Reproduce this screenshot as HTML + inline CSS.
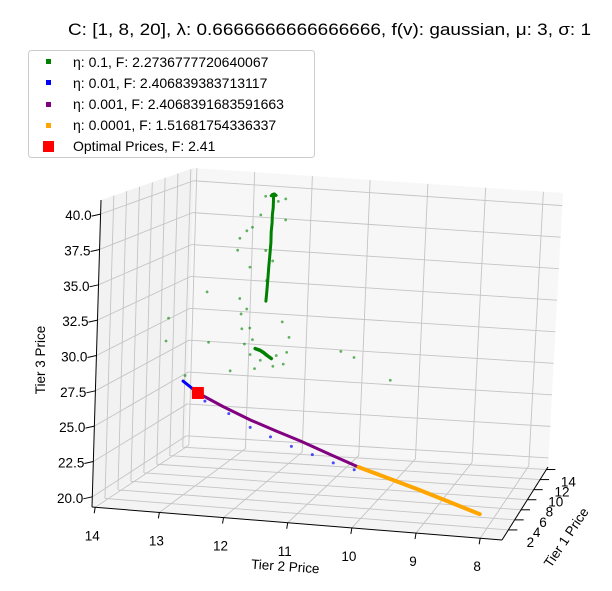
<!DOCTYPE html>
<html><head><meta charset="utf-8"><style>
body{margin:0;background:#fff}
svg{display:block;font-family:"Liberation Sans","DejaVu Sans",sans-serif}
</style></head><body>
<svg id="chart" width="612" height="591" viewBox="0 0 612 591" xmlns="http://www.w3.org/2000/svg">
<text x="68" y="35" font-size="16.5" fill="#000" textLength="523" lengthAdjust="spacingAndGlyphs">C: [1, 8, 20], λ: 0.6666666666666666, f(v): gaussian, μ: 3, σ: 1</text>
<g id="panes"></g>
<g id="grid"></g>
<g id="axes"></g>
<g id="series"></g>
<text x="45" y="360" font-size="13.5" transform="rotate(-90 45 360)" text-anchor="middle">Tier 3 Price</text>
<text x="285" y="571" font-size="13.5" transform="rotate(4 285 571)" text-anchor="middle">Tier 2 Price</text>
<text x="570" y="540" font-size="13.5" transform="rotate(-56 570 540)" text-anchor="middle">Tier 1 Price</text>
<g>
<rect x="28.5" y="50.5" width="286" height="107" rx="3" fill="#fff" stroke="#ccc"/>
<g><rect x="46" y="59" width="5" height="5" fill="green"/><text x="73" y="67" font-size="14">η: 0.1, F: 2.2736777720640067</text></g>
<g><rect x="46" y="80" width="5" height="5" fill="blue"/><text x="73" y="88" font-size="14">η: 0.01, F: 2.406839383713117</text></g>
<g><rect x="46" y="102" width="5" height="5" fill="purple"/><text x="73" y="109" font-size="14">η: 0.001, F: 2.4068391683591663</text></g>
<g><rect x="46" y="123" width="5" height="5" fill="orange"/><text x="73" y="130" font-size="14">η: 0.0001, F: 1.51681754336337</text></g>
<g><rect x="43" y="141" width="11" height="11" fill="red"/><text x="73" y="151" font-size="14">Optimal Prices, F: 2.41</text></g>
</g>
</svg>
<script>
// ----- data -----
const t2Ticks = [14, 13, 12, 11, 10, 9, 8];
const t3Ticks = [20.0, 22.5, 25.0, 27.5, 30.0, 32.5, 35.0, 37.5, 40.0];
const t1Ticks = [2, 4, 6, 8, 10, 12, 14];
const greenT2 = [12.11,11.9,11.78,12.18,11.77,12.4,12.51,12.31,12.33,11.77,11.65,11.68,13.02,13.64,12.97,12.48,12.36,12.43,12.25,12.11,11.9,11.73,12.38,12.28,10.79,10.57,9.96,13.67,13.34,12.05,11.96,12.08,12.54,12.0,11.97,11.94,12.02,12.2,12.12,12.06,12.0,11.93,12.45,12.3,11.85,12.6,12.2];
const greenT3 = [40.82,40.52,40.75,39.4,39.18,38.13,37.53,38.43,35.44,31.55,30.43,29.3,33.34,31.17,29.6,33.04,32.3,30.8,30.05,28.56,28.18,28.4,29.68,28.93,29.68,29.3,27.8,29.45,27.0,34.54,36.04,36.78,36.63,41.0,41.05,40.95,40.9,29.4,29.3,29.15,28.95,28.75,31.9,30.9,29.0,27.6,27.9];
const greenTrailT2 = [11.98,11.98,11.98,11.98,11.99,11.99,12.0,12.0,12.01,12.02,12.03,12.04,12.05];
const greenTrailT3 = [41.0,40.7,40.4,40.0,39.5,38.9,38.2,37.4,36.5,35.6,34.6,33.7,33.0];
const blueLineT2 = [13.37,13.12];
const blueLineT3 = [26.57,25.77];
const blueDotsT2 = [13.0,12.6,12.24,11.9,11.55,11.2,10.85,10.5];
const blueDotsT3 = [25.2,24.4,23.5,22.9,22.3,21.8,21.3,20.9];
const purpleT2 = [13.12,12.7,12.24,11.8,11.4,10.9,10.43];
const purpleT3 = [25.77,24.9,24.05,23.35,22.75,21.9,21.12];
const orangeT2 = [10.43,9.42,8.4];
const orangeT3 = [21.12,19.74,18.24];
const optimalT2 = [13.12];
const optimalT3 = [25.77];
const dataT1 = 7.25;

// ----- projection -----
const T2MIN=14.05, T2MAX=7.66, T3MIN=19.28, T3MAX=41.0, T1MIN=0, T1MAX=14.5;
const C={ '000':[92,507],'100':[502,540],'010':[186,445],'110':[548,467],
          '001':[101,200],'101':[511,240],'011':[194,168],'111':[563,193]};
function P(u,v,w){let x=0,y=0;
 for(const a of [0,1])for(const b of [0,1])for(const c of [0,1]){
  const k=(a?u:1-u)*(b?v:1-v)*(c?w:1-w);const p=C[''+a+b+c];x+=k*p[0];y+=k*p[1];}
 return [x,y];}
const U=t=>(t-T2MIN)/(T2MAX-T2MIN), W=t=>(t-T3MIN)/(T3MAX-T3MIN), V=t=>(t-T1MIN)/(T1MAX-T1MIN);
function proj(t2,t1,t3){return P(U(t2),V(t1),W(t3));}
const NS='http://www.w3.org/2000/svg';
function mk(tag,attrs,parent){const e=document.createElementNS(NS,tag);for(const k in attrs)e.setAttribute(k,attrs[k]);parent.appendChild(e);return e;}
const pts=a=>a.map(p=>p[0].toFixed(1)+','+p[1].toFixed(1)).join(' ');
const panes=document.getElementById('panes'),grid=document.getElementById('grid'),axes=document.getElementById('axes'),series=document.getElementById('series');

let e;
e=mk('polygon',{points:pts([P(0,0,0),P(0,1,0),P(0,1,1),P(0,0,1)]),fill:'#f2f2f2'},panes);


e=mk('polygon',{points:pts([P(0,1,0),P(1,1,0),P(1,1,1),P(0,1,1)]),fill:'#f7f7f7'},panes);


e=mk('polygon',{points:pts([P(0,0,0),P(1,0,0),P(1,1,0),P(0,1,0)]),fill:'#f4f4f4'},panes);



function gl(a,b,name){const l=mk('line',{x1:a[0],y1:a[1],x2:b[0],y2:b[1],stroke:'#c4c4c4','stroke-width':0.9},grid);
 
 }
t2Ticks.forEach(t=>{const u=U(t);gl(P(u,1,0),P(u,1,1),'grid-t2-back');gl(P(u,0,0),P(u,1,0),'grid-t2-floor');});
t3Ticks.forEach(t=>{const w=W(t);gl(P(0,1,w),P(1,1,w),'grid-t3-back');gl(P(0,0,w),P(0,1,w),'grid-t3-left');});
t1Ticks.forEach(t=>{const v=V(t);gl(P(0,v,0),P(0,v,1),'grid-t1-left');gl(P(0,v,0),P(1,v,0),'grid-t1-floor');});

function al(a,b,name){const l=mk('line',{x1:a[0],y1:a[1],x2:b[0],y2:b[1],stroke:'#000','stroke-width':1},axes);
 
 }
al(P(0,0,0),P(0,0,1),'z-axis-line');
al(P(0,0,0),P(1,0,0),'x-axis-line');
al(P(1,0,0),P(1,1,0),'depth-axis-line');
function tl(x,y,s,anchor,name){const t=mk('text',{x:x,y:y,'font-size':13.5,'text-anchor':anchor},axes);t.textContent=s;
 
 }
t3Ticks.forEach(t=>{const p=P(0,0,W(t));al(p,[p[0]-9,p[1]+2],'z-tick');tl(p[0]-9,p[1]+6,t.toFixed(1),'end','z-tick-label');});
t2Ticks.forEach(t=>{const p=P(U(t),0,0);al(p,[p[0]-1,p[1]+6],'x-tick');tl(p[0]-3,p[1]+33,String(t),'middle','x-tick-label');});
t1Ticks.forEach(t=>{const p=P(1,V(t),0);al(p,[p[0]+9,p[1]],'depth-tick');tl(p[0]+22,p[1]+17,String(t),'middle','depth-tick-label');});

function line(t2s,t3s,color,w,name){const a=t2s.map((t,i)=>proj(t,dataT1,t3s[i]));
 const l=mk('polyline',{points:pts(a),fill:'none',stroke:color,'stroke-width':w,'stroke-linecap':'round','stroke-linejoin':'round'},series);
 
 }
function dots(t2s,t3s,color,r,op,name){t2s.forEach((t,i)=>{const p=proj(t,dataT1,t3s[i]);
 const c=mk('circle',{cx:p[0],cy:p[1],r:r,fill:color,'fill-opacity':op},series);
 
 });}
dots(greenT2,greenT3,'green',1.4,0.6,'green-point');
line(greenTrailT2,greenTrailT3,'green',3,'green-trail');
line(greenT2.slice(37,42),greenT3.slice(37,42),'green',3.5,'green-cluster');
line(greenT2.slice(33,37),greenT3.slice(33,37),'green',3,'green-top-cluster');
dots(blueDotsT2,blueDotsT3,'blue',1.5,0.7,'blue-point');
line(blueLineT2,blueLineT3,'blue',3,'blue-line');
line(purpleT2,purpleT3,'purple',3,'purple-line');
line(orangeT2,orangeT3,'orange',4,'orange-line');
optimalT2.forEach((t,i)=>{const p=proj(t,dataT1,optimalT3[i]);
 const r=mk('rect',{x:p[0]-6,y:p[1]-6,width:12,height:12,fill:'red'},series);
 
 });
</script>
</body></html>
